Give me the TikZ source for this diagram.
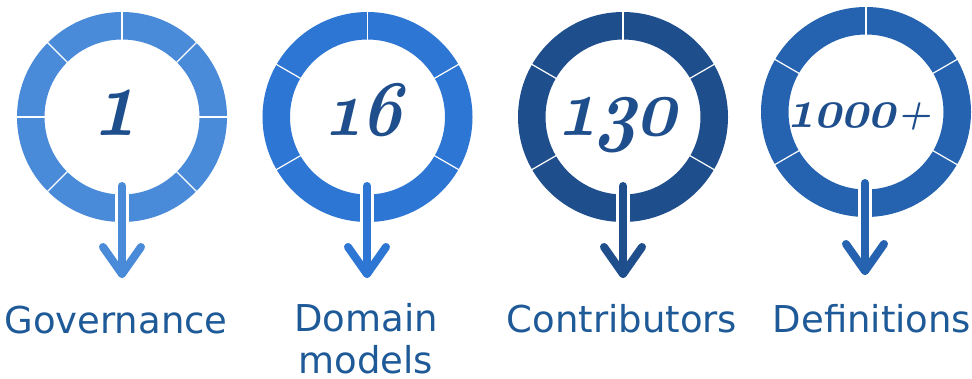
\documentclass[tikz,border=0pt]{standalone}
\usepackage{fontspec}
\usepackage{graphicx}
\newfontfamily\labfont{DejaVu Sans}
\definecolor{ringA}{HTML}{4A8BD9}
\definecolor{ringB}{HTML}{2E76D4}
\definecolor{ringC}{HTML}{1F4E8D}
\definecolor{ringD}{HTML}{2563B0}
\definecolor{numcol}{HTML}{1F4E8C}
\definecolor{labcol}{HTML}{1F5A98}
\newcommand\osnum[1]{{\usefont{OML}{cmm}{b}{it}#1}}
\tikzset{
  ring/.style={circle, draw=#1, line width=27.5pt, minimum size=182.5pt, inner sep=0pt, outer sep=0pt},
  sepline/.style={draw=white, line width=1.2pt},
  halo/.style={draw=white, line width=14pt},
  arr/.style={draw=#1, line width=8pt, line cap=round, line join=round},
  num/.style={text=numcol, anchor=base, inner sep=0pt, transform shape},
  lab/.style={text=labcol, font=\labfont\fontsize{37}{42}\selectfont, anchor=base, inner sep=0pt, align=center},
}
\begin{document}
\begin{tikzpicture}[x=1pt,y=-1pt]
\useasboundingbox[fill=white] (0,0) rectangle (972,378);
% ring 1
\node[ring=ringA] (r1) at (122,117) {};
\foreach \a in {0,45,135,180,225,270,315}
  \draw[sepline] (r1.center) ++(\a:76) -- ++(\a:31);
\coordinate (a1s) at (122,186);
\coordinate (a1e) at (122,274);
\draw[halo] (122,190) -- (122,228);
\draw[arr=ringA] (a1s) -- (a1e);
\draw[arr=ringA] (a1e) ++(-19,-27) -- (a1e) -- ++(19,-27);
\begin{scope}[shift={(115,135)}, xslant=0.24]
\node[num] (n1) at (0,0) {\scalebox{7.4}[9.9]{\osnum{1}}};
\end{scope}
\node[lab] (l1) at (116,333) {Governance};
% ring 2
\node[ring=ringB] (r2) at (367.5,117) {};
\foreach \a in {-90,-30,30,150,210}
  \draw[sepline] (r2.center) ++(\a:76) -- ++(\a:31);
\coordinate (a2s) at (367,186);
\coordinate (a2e) at (367,274);
\draw[halo] (367,190) -- (367,228);
\draw[arr=ringB] (a2s) -- (a2e);
\draw[arr=ringB] (a2e) ++(-19,-27) -- (a2e) -- ++(19,-27);
\begin{scope}[shift={(362,135)}, xslant=0.24]
\node[num] (n2) at (0,0) {\scalebox{6.6}[7.9]{\osnum{16}}};
\end{scope}
\node[lab] (l2) at (366,373) {Domain\\models};
% ring 3
\node[ring=ringC] (r3) at (623,117) {};
\foreach \a in {-90,-30,30,150,210}
  \draw[sepline] (r3.center) ++(\a:76) -- ++(\a:31);
\coordinate (a3s) at (623,186);
\coordinate (a3e) at (623,274);
\draw[halo] (623,190) -- (623,228);
\draw[arr=ringC] (a3s) -- (a3e);
\draw[arr=ringC] (a3e) ++(-19,-27) -- (a3e) -- ++(19,-27);
\begin{scope}[shift={(617,135)}, xslant=0.24]
\node[num] (n3) at (0,0) {\scalebox{6.9}[8.3]{\osnum{130}}};
\end{scope}
\node[lab] (l3) at (622,332) {Contributors};
% ring 4
\node[ring=ringD] (r4) at (866,112) {};
\foreach \a in {-90,-30,30,150,210}
  \draw[sepline] (r4.center) ++(\a:76) -- ++(\a:31);
\coordinate (a4s) at (865,183);
\coordinate (a4e) at (865,271);
\draw[halo] (865,187) -- (865,223);
\draw[arr=ringD] (a4s) -- (a4e);
\draw[arr=ringD] (a4e) ++(-19,-27) -- (a4e) -- ++(19,-27);
\begin{scope}[shift={(859,127)}, xslant=0.24]
\node[num] (n4) at (0,0) {\scalebox{4.7}[5.4]{\osnum{1000}}\kern2pt\raisebox{2pt}{\scalebox{3.6}{\bfseries +}}};
\end{scope}
\node[lab] (l4) at (872,332) {Definitions};
\end{tikzpicture}
\end{document}
